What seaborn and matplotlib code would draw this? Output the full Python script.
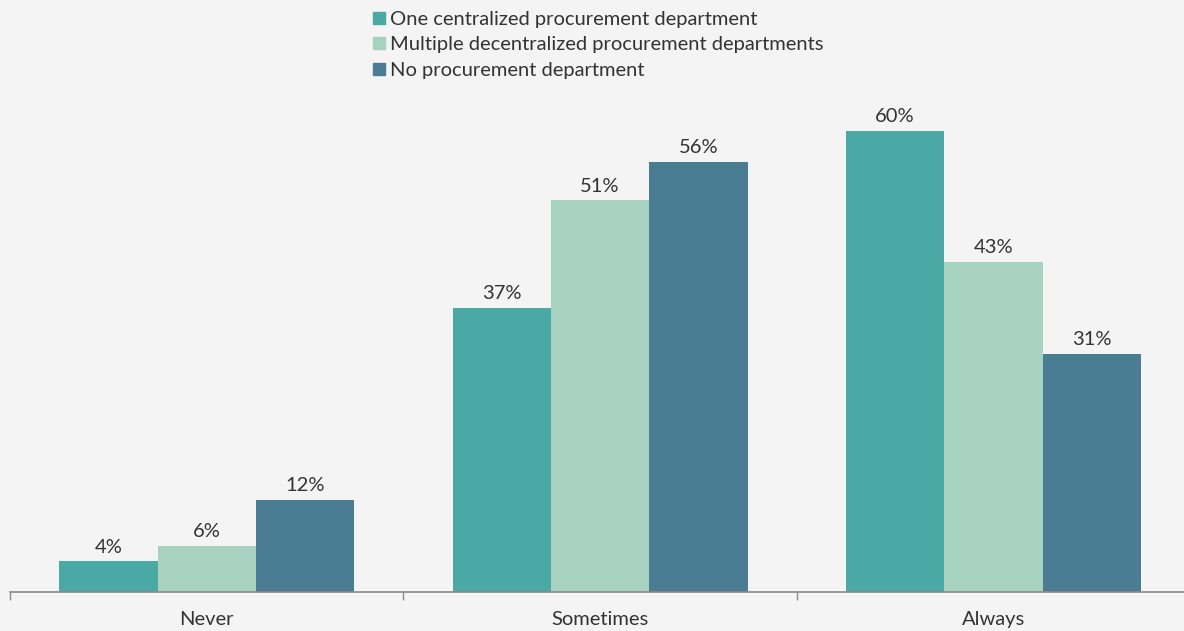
import pandas as pd
import matplotlib.pyplot as plt
import seaborn as sns
from matplotlib.lines import Line2D

# data
categories = ['Never', 'Sometimes', 'Always']
series = ['One centralized procurement department',
          'Multiple decentralized procurement departments',
          'No procurement department']
one_central = [4, 37, 60]
multi_decentral = [6, 51, 43]
no_dept = [12, 56, 31]
colors = ['#4aa9a5', '#a8d2c0', '#4a7c94']

rows = []
for name, vals in zip(series, [one_central, multi_decentral, no_dept]):
    for cat, v in zip(categories, vals):
        rows.append({'freq': cat, 'group': name, 'pct': v})
df = pd.DataFrame(rows)

sns.set_style('white')
plt.rcParams['font.family'] = ['Lato', 'DejaVu Sans']
bg = '#f4f4f4'
txt = '#333333'
fs = 14.5

fig = plt.figure(figsize=(11.84, 6.31), dpi=100, facecolor=bg)
ax = fig.add_axes([10 / 1184, 39 / 631, 1180 / 1184, 461 / 631])
ax.set_facecolor(bg)

sns.barplot(data=df, x='freq', y='pct', hue='group', order=categories,
            hue_order=series, palette=colors, width=0.75, gap=0,
            saturation=1, linewidth=0, ax=ax, legend=False)

for c in ax.containers:
    ax.bar_label(c, fmt='%g%%', padding=4, fontsize=fs, color=txt)

ax.set_xlim(-0.5, 2.5)
ax.set_ylim(0, 60)
ax.set_xlabel('')
ax.set_ylabel('')
ax.set_yticks([])
for s in ['top', 'right', 'left']:
    ax.spines[s].set_visible(False)
ax.spines['bottom'].set_color('#8a8a8a')
ax.spines['bottom'].set_linewidth(1.2)
ax.tick_params(axis='x', which='major', bottom=True, length=0, labelsize=fs,
               labelcolor=txt, pad=14)
ax.set_xticks([-0.5, 0.5, 1.5, 2.5], minor=True)
ax.tick_params(axis='x', which='minor', bottom=True, length=6,
               color='#8a8a8a', width=1)

handles = [Line2D([], [], marker='s', linestyle='', markersize=9,
                  markerfacecolor=col, markeredgecolor=col) for col in colors]
fig.legend(handles, series, loc='upper left', bbox_to_anchor=(361 / 1184, 1.002),
           frameon=False, fontsize=fs, handlelength=0.6, handletextpad=0.25,
           labelspacing=0.42, borderaxespad=0.2, labelcolor=txt)

fig.savefig('out.png', dpi=100, facecolor=bg)
